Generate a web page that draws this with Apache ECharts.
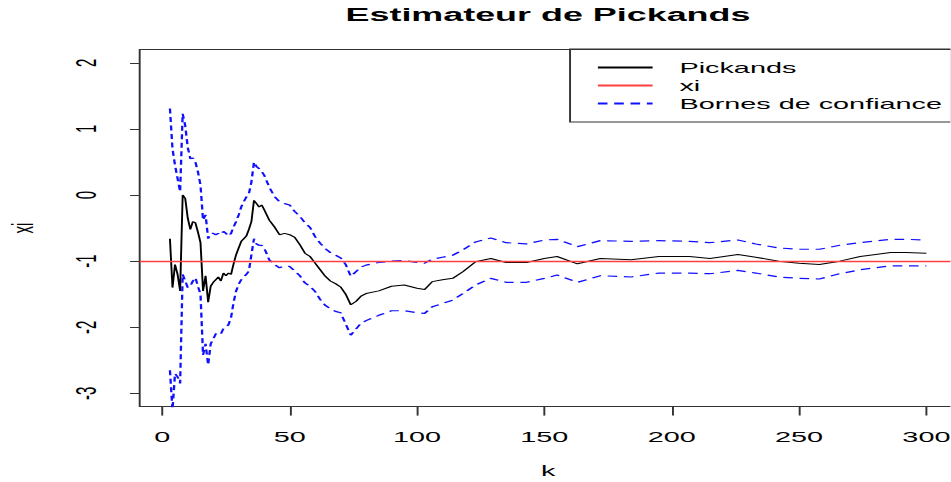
<!DOCTYPE html>
<html>
<head>
<meta charset="utf-8">
<script src="https://cdn.jsdelivr.net/npm/echarts@6/dist/echarts.min.js"></script>
<style>
  html, body { margin: 0; padding: 0; background: #fff; overflow: hidden; }
  #chart { position: absolute; left: 0; top: 0; height: 482px; transform-origin: 0 0; }
</style>
</head>
<body>
<div id="chart"></div>
<script>
// Pickands estimator of the extreme value index, with confidence bounds
const kValues = [3, 4, 5, 6, 7, 8, 9, 10, 11, 12, 13, 14, 15, 16, 17, 18, 19, 20,
  21, 22, 23, 24, 25, 26, 27, 28, 29, 30, 31, 32, 33, 34, 35, 36, 37, 38, 39, 40,
  42, 44, 46, 48, 50, 52, 54, 56, 58, 60, 62, 64, 66, 68, 70, 72, 74, 76, 78, 80,
  85, 90, 95, 100, 103, 106, 110, 114, 118, 123, 129, 135, 143, 150, 155, 163,
  172, 184, 195, 207, 215, 226, 233, 242, 250, 258, 266, 274, 286, 292, 300];

const pickands = [-0.66, -1.40, -1.05, -1.20, -1.45, 0.00, -0.05, -0.35, -0.52, -0.40,
  -0.42, -0.56, -0.72, -1.45, -1.22, -1.62, -1.38, -1.32, -1.28, -1.24, -1.30, -1.18,
  -1.22, -1.18, -1.20, -1.04, -0.90, -0.80, -0.70, -0.66, -0.62, -0.52, -0.40, -0.08,
  -0.13, -0.18, -0.15, -0.22,
  -0.38, -0.48, -0.60, -0.58, -0.60, -0.64, -0.75, -0.88, -0.93, -1.03, -1.13, -1.23,
  -1.30, -1.34, -1.39, -1.50, -1.66, -1.61, -1.53, -1.49,
  -1.45, -1.38, -1.36, -1.41, -1.43, -1.31, -1.28, -1.26, -1.16, -1.01, -0.96, -1.02,
  -1.02, -0.96, -0.93, -1.04, -0.96, -0.98, -0.93, -0.93, -0.96, -0.90, -0.94, -1.00,
  -1.03, -1.05, -1.00, -0.93, -0.87, -0.87, -0.88];

const upperBound = [1.31, 0.70, 0.45, 0.25, 0.05, 1.23, 1.05, 0.72, 0.55, 0.56,
  0.50, 0.35, 0.15, -0.38, -0.30, -0.66, -0.58, -0.58, -0.60, -0.58, -0.60, -0.55,
  -0.58, -0.62, -0.58, -0.48, -0.40, -0.30, -0.18, -0.10, -0.03, 0.02, 0.20, 0.50,
  0.43, 0.40, 0.36, 0.30,
  0.12, -0.02, -0.10, -0.13, -0.15, -0.25, -0.32, -0.42, -0.49, -0.63, -0.73, -0.81,
  -0.87, -0.91, -0.95, -1.05, -1.23, -1.16, -1.09, -1.06,
  -1.02, -1.00, -0.99, -1.02, -1.03, -0.97, -0.94, -0.91, -0.83, -0.71, -0.65, -0.72,
  -0.74, -0.68, -0.67, -0.78, -0.69, -0.70, -0.69, -0.70, -0.72, -0.68, -0.74, -0.80,
  -0.82, -0.82, -0.76, -0.72, -0.67, -0.67, -0.68];

const lowerBound = [-2.65, -3.25, -2.70, -2.75, -2.85, -1.20, -1.30, -1.40, -1.38, -1.30,
  -1.25, -1.38, -1.50, -2.42, -2.25, -2.57, -2.25, -2.18, -2.10, -2.08, -2.10, -2.02,
  -2.00, -1.96, -1.85, -1.62, -1.45, -1.35, -1.28, -1.24, -1.20, -1.15, -0.90, -0.66,
  -0.74, -0.76, -0.76, -0.80,
  -0.98, -1.05, -1.10, -1.07, -1.08, -1.15, -1.22, -1.33, -1.38, -1.46, -1.58, -1.67,
  -1.72, -1.76, -1.78, -1.95, -2.12, -2.03, -1.94, -1.90,
  -1.82, -1.75, -1.75, -1.78, -1.79, -1.69, -1.64, -1.59, -1.49, -1.36, -1.26, -1.32,
  -1.32, -1.26, -1.21, -1.32, -1.22, -1.24, -1.18, -1.18, -1.19, -1.14, -1.18, -1.24,
  -1.26, -1.27, -1.19, -1.13, -1.07, -1.07, -1.07];

const xiValue = -1;
const xTicks = [0, 50, 100, 150, 200, 250, 300];
const yTicks = [-3, -2, -1, 0, 1, 2];

// The plot is laid out at a narrower width and stretched horizontally.
const STRETCH = 1.92;
const el = document.getElementById('chart');
el.style.width = (951 / STRETCH) + 'px';
el.style.transform = 'scaleX(' + STRETCH + ')';

const FONT = '"Liberation Sans", Arial, Helvetica, sans-serif';
const pairs = vals => kValues.map((k, i) => [k, vals[i]]);

const chart = echarts.init(el, null, { renderer: 'svg' });
chart.setOption({
  animation: false,
  backgroundColor: '#fff',
  title: {
    text: 'Estimateur de Pickands',
    left: 285.4,
    top: 4.5,
    padding: 0,
    textAlign: 'center',
    textStyle: { fontFamily: FONT, fontSize: 18.7, fontWeight: 'bold', color: '#000' }
  },
  legend: {
    orient: 'vertical',
    left: 296.9,
    top: 49,
    padding: [11, 5, 11, 13.5],
    itemWidth: 28.5,
    itemHeight: 15,
    itemGap: 3,
    borderColor: '#333',
    borderWidth: 1,
    itemStyle: { opacity: 0 },
    data: ['Pickands', 'xi', 'Bornes de confiance'],
    textStyle: { fontFamily: FONT, fontSize: 15, lineHeight: 15, color: '#000', padding: [0, 0, 0, 9] }
  },
  grid: {
    show: true,
    left: 72.75,
    top: 49.6,
    width: 425.5,
    height: 357,
    outerBoundsMode: 'none',
    containLabel: false,
    borderColor: '#333',
    borderWidth: 1,
    backgroundColor: 'transparent'
  },
  xAxis: {
    type: 'value',
    min: -8.88,
    max: 311.88,
    name: 'k',
    nameLocation: 'middle',
    nameGap: 57,
    nameTextStyle: { fontFamily: FONT, fontSize: 15, color: '#000' },
    axisLine: { show: false, onZero: false },
    splitLine: { show: false },
    axisTick: { show: true, inside: false, length: 9, customValues: xTicks,
      lineStyle: { color: '#333', width: 1 } },
    axisLabel: { customValues: xTicks, margin: 23, fontFamily: FONT, fontSize: 15, color: '#000' }
  },
  yAxis: {
    type: 'value',
    min: -3.2,
    max: 2.2,
    name: 'xi',
    nameLocation: 'middle',
    nameGap: 53.5,
    nameRotate: 90,
    nameTextStyle: { fontFamily: FONT, fontSize: 15, color: '#000' },
    axisLine: { show: false, onZero: false },
    splitLine: { show: false },
    axisTick: { show: true, inside: false, length: 5, customValues: yTicks,
      lineStyle: { color: '#333', width: 1 } },
    axisLabel: { customValues: yTicks, rotate: 90, margin: 20.5, fontFamily: FONT, fontSize: 15, color: '#000' }
  },
  series: [
    {
      name: 'Pickands',
      type: 'line',
      data: pairs(pickands),
      symbol: 'none',
      clip: true,
      itemStyle: { color: '#000' },
      lineStyle: { color: '#000', width: 1 }
    },
    {
      name: 'xi',
      type: 'line',
      data: [],
      symbol: 'none',
      itemStyle: { color: '#ff4040' },
      lineStyle: { color: '#ff4040', width: 1.4 },
      markLine: {
        silent: true,
        symbol: 'none',
        label: { show: false },
        lineStyle: { color: '#ff4040', width: 1.4, type: 'solid' },
        data: [{ yAxis: xiValue }]
      }
    },
    {
      name: 'Bornes de confiance',
      type: 'line',
      data: pairs(upperBound),
      symbol: 'none',
      clip: true,
      itemStyle: { color: '#1010ff' },
      lineStyle: { color: '#1010ff', width: 1.2, type: [5, 3.5] }
    },
    {
      name: 'Bornes de confiance',
      type: 'line',
      data: pairs(lowerBound),
      symbol: 'none',
      clip: true,
      itemStyle: { color: '#1010ff' },
      lineStyle: { color: '#1010ff', width: 1.2, type: [5, 3.5] }
    }
  ]
});
</script>
</body>
</html>
